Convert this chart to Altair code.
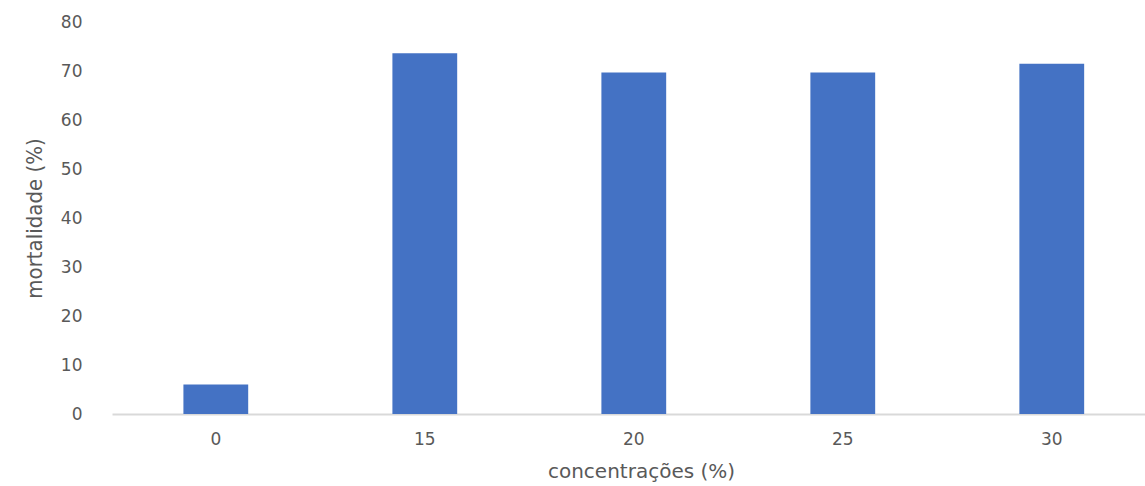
import altair as alt
import pandas as pd

concentracoes = ["0", "15", "20", "25", "30"]
mortalidade = [6.0, 73.6, 69.7, 69.7, 71.5]

df = pd.DataFrame({"conc": concentracoes, "mort": mortalidade})

chart = alt.Chart(df).mark_bar(color="#4472C4").encode(
    x=alt.X("conc:N", sort=concentracoes,
            scale=alt.Scale(paddingInner=0.69, paddingOuter=0.3164, align=0.54),
            axis=alt.Axis(title="concentrações (%)", labelAngle=0,
                          domainColor="#D9D9D9", domainWidth=2, ticks=False,
                          labelFont="DejaVu Sans", labelFontSize=17, labelColor="#595959",
                          labelPadding=17,
                          titleFont="DejaVu Sans", titleFontSize=20, titleFontWeight="normal",
                          titleColor="#595959", titlePadding=14, titleX=529)),
    y=alt.Y("mort:Q", scale=alt.Scale(domain=[0, 80], nice=False),
            axis=alt.Axis(title="mortalidade (%)", values=[0, 10, 20, 30, 40, 50, 60, 70, 80],
                          grid=False, domain=False, ticks=False,
                          labelFont="DejaVu Sans", labelFontSize=17, labelColor="#595959",
                          labelPadding=30,
                          titleFont="Liberation Sans Narrow, DejaVu Sans Condensed, Roboto",
                          titleFontSize=22, titleFontWeight="normal",
                          titleColor="#595959", titlePadding=14)),
).properties(
    width=1033, height=392,
    autosize=alt.AutoSizeParams(type="none"),
    padding={"left": 112, "top": 22, "right": 0, "bottom": 72},
).configure(background="white").configure_view(stroke=None, strokeWidth=0)

chart.save("out.html", embed_options={"renderer": "svg", "actions": False})
